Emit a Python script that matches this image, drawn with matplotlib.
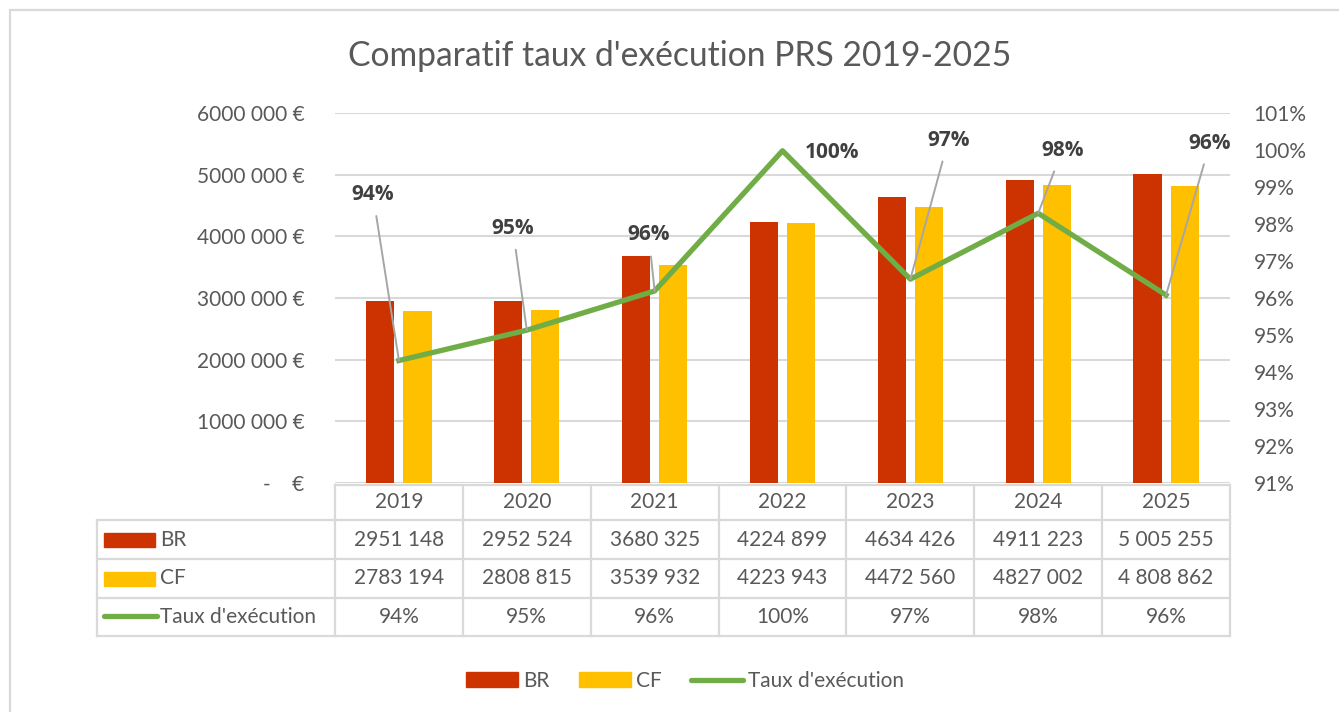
import numpy as np
import matplotlib.pyplot as plt
import matplotlib.transforms as mtransforms
from matplotlib.lines import Line2D
from matplotlib.patches import Rectangle, Patch
from matplotlib.ticker import FuncFormatter, MultipleLocator

# data
years = ["2019", "2020", "2021", "2022", "2023", "2024", "2025"]
br = [2951148, 2952524, 3680325, 4224899, 4634426, 4911223, 5005255]
cf = [2783194, 2808815, 3539932, 4223943, 4472560, 4827002, 4808862]
taux = [94.31, 95.13, 96.19, 99.98, 96.51, 98.29, 96.08]
# the 2025 column uses full thousand grouping in the table
full_grouping = [False, False, False, False, False, False, True]

# label offsets in pixels (dx, dy) from each point
label_offsets = [(-26, 166), (-14, 102), (-6, 56), (50, -2), (38, 139), (24, 63), (44, 152)]

RED = "#CC3300"
YELLOW = "#FFC000"
GREEN = "#70AD47"
GRID = "#D9D9D9"
TXT = "#595959"
FS = 15

W, H = 1339, 712
plt.rcParams["font.family"] = ["Lato", "DejaVu Sans"]


def fx(px):
    return px / W


def fy(py):
    return 1 - py / H


def fmt_num(v, full=False):
    s = f"{int(v):,}".replace(",", " ")
    if not full and v >= 1e6:
        s = s.replace(" ", "", 1)
    return s


fig = plt.figure(figsize=(W / 100, H / 100), dpi=100)
ax = fig.add_axes([fx(335), fy(483), fx(1230) - fx(335), (483 - 113) / H])
ax2 = ax.twinx()

x = np.arange(len(years))
ax.bar(x - 0.145, br, width=0.22, color=RED, zorder=2)
ax.bar(x + 0.145, cf, width=0.22, color=YELLOW, zorder=2)
ax.set_xlim(-0.5, len(years) - 0.5)
ax.set_ylim(0, 6e6)
ax.yaxis.set_major_locator(MultipleLocator(1e6))
ax.yaxis.set_major_formatter(FuncFormatter(
    lambda v, p: "-    €" if v == 0 else fmt_num(v) + " €"))
ax.yaxis.grid(True, color=GRID, lw=1.5)
ax.set_axisbelow(True)
ax.set_xticks([])
ax.tick_params(axis="y", length=0, pad=22, labelsize=FS, labelcolor=TXT)

ax2.plot(x, taux, color=GREEN, lw=3.8, zorder=3)
ax2.set_ylim(91, 101)
ax2.yaxis.set_major_locator(MultipleLocator(1))
ax2.yaxis.set_major_formatter(FuncFormatter(lambda v, p: f"{v:.0f}%"))
ax2.tick_params(axis="y", length=0, pad=17, labelsize=FS, labelcolor=TXT)

for a in (ax, ax2):
    for s in a.spines.values():
        s.set_visible(False)

# data labels with leader lines
for i, t in enumerate(taux):
    dx, dy = label_offsets[i]
    arrow = None
    if abs(dy) > 20:
        arrow = dict(arrowstyle="-", color="#A6A6A6", lw=1.4, shrinkA=6, shrinkB=0)
    ax2.annotate(f"{round(t)}%", xy=(i, t), xytext=(dx, dy), textcoords="offset pixels",
                 ha="center", va="center", fontsize=15, fontweight="bold",
                 family="Open Sans", color="#404040", arrowprops=arrow, zorder=4)

# title
fig.text(fx(680), fy(56), "Comparatif taux d'exécution PRS 2019-2025",
         ha="center", va="center", fontsize=24.2, color=TXT)

# data table under the plot
bt = mtransforms.blended_transform_factory(ax.transData, fig.transFigure)
rows_y = [485, 520, 559, 598, 636]
x_left = fx(97)
x1 = ax.transData.transform((len(years) - 0.5, 0))[0] / W
x0 = ax.transData.transform((-0.5, 0))[0] / W
lw_t = 1.6
fig.add_artist(Line2D([x0, x1], [fy(rows_y[0])] * 2, color=GRID, lw=lw_t))
for ry in rows_y[1:]:
    fig.add_artist(Line2D([x_left, x1], [fy(ry)] * 2, color=GRID, lw=lw_t))
fig.add_artist(Line2D([x_left, x_left], [fy(rows_y[1]), fy(rows_y[-1])], color=GRID, lw=lw_t))
for k in range(len(years) + 1):
    fig.add_artist(Line2D([k - 0.5, k - 0.5], [fy(rows_y[0]), fy(rows_y[-1])],
                          transform=bt, color=GRID, lw=lw_t))

row_mid = [(rows_y[j] + rows_y[j + 1]) / 2 for j in range(4)]
for i, yr in enumerate(years):
    fig.text(i, fy(row_mid[0]), yr, transform=bt, ha="center", va="center", fontsize=FS, color=TXT)
    fig.text(i, fy(row_mid[1]), fmt_num(br[i], full_grouping[i]), transform=bt,
             ha="center", va="center", fontsize=FS, color=TXT)
    fig.text(i, fy(row_mid[2]), fmt_num(cf[i], full_grouping[i]), transform=bt,
             ha="center", va="center", fontsize=FS, color=TXT)
    fig.text(i, fy(row_mid[3]), f"{round(taux[i])}%", transform=bt,
             ha="center", va="center", fontsize=FS, color=TXT)

# row keys
fig.add_artist(Rectangle((fx(104), fy(547)), fx(155) - fx(104), 14 / H, color=RED))
fig.add_artist(Rectangle((fx(104), fy(586)), fx(155) - fx(104), 14 / H, color=YELLOW))
fig.add_artist(Line2D([fx(104), fx(157)], [fy(616)] * 2, color=GREEN, lw=3.8,
                      solid_capstyle="round"))
for j, lab in enumerate(["BR", "CF", "Taux d'exécution"]):
    fig.text(fx(160), fy(row_mid[j + 1]), lab, ha="left", va="center", fontsize=FS, color=TXT)

# legend
handles = [Patch(color=RED), Patch(color=YELLOW),
           Line2D([], [], color=GREEN, lw=3.8, solid_capstyle="round")]
fig.legend(handles, ["BR", "CF", "Taux d'exécution"], loc="center",
           bbox_to_anchor=(fx(685), fy(681)), ncol=3, frameon=False, fontsize=FS,
           handlelength=2.5, handleheight=0.7, handletextpad=0.25, columnspacing=1.4,
           labelcolor=TXT)

# chart border
fig.add_artist(Rectangle((fx(10), -0.1), 1.2, fy(10) + 0.1, fill=False,
                         edgecolor=GRID, lw=1.6))

fig.savefig("out.png", dpi=100)
